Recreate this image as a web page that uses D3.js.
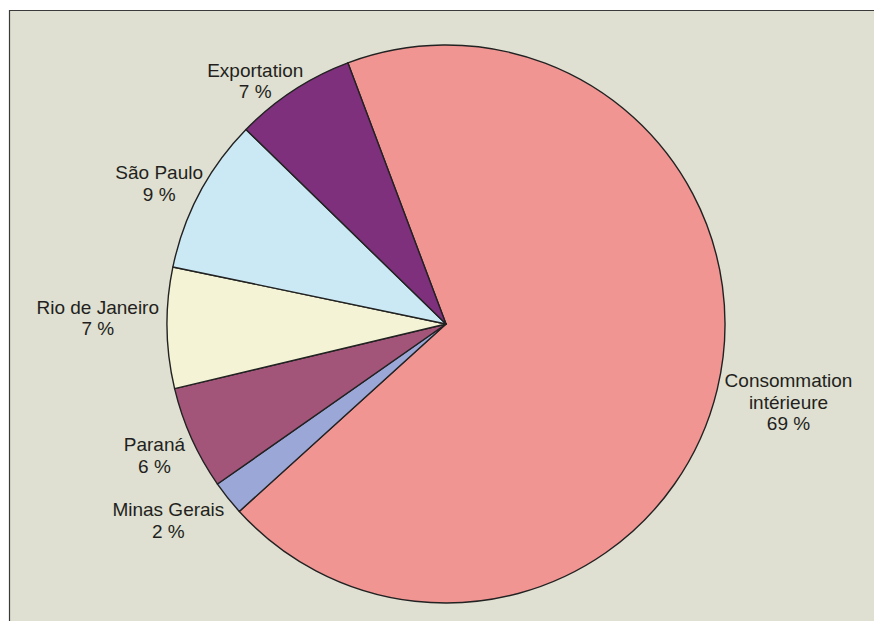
<!DOCTYPE html>
<html><head><meta charset="utf-8">
<script src="https://cdn.jsdelivr.net/npm/d3@7/dist/d3.min.js"></script>
<style>html,body{margin:0;padding:0;background:#fff;}svg{display:block;}</style>
</head><body>
<svg id="chart" width="874" height="621"></svg>
<script>
const categories = ["Consommation intérieure", "Minas Gerais", "Paraná", "Rio de Janeiro", "São Paulo", "Exportation"];
const labelLines = [["Consommation", "intérieure"], ["Minas Gerais"], ["Paraná"], ["Rio de Janeiro"], ["São Paulo"], ["Exportation"]];
const values = [69, 2, 6, 7, 9, 7];
const colors = ["#f19593", "#9ba7d7", "#a25579", "#f4f3d5", "#cbe9f5", "#7e307c"];

const svg = d3.select("#chart");
const W = 874, H = 621;
svg.append("rect").attr("x", 9).attr("y", 10).attr("width", W).attr("height", H)
  .attr("fill", "#dfe0d1");
svg.append("path").attr("d", `M9.5,${H} L9.5,10.5 L${W},10.5`).attr("fill", "none")
  .attr("stroke", "#3a3a3a").attr("stroke-width", 1.2);

const cx = 446, cy = 324, R = 279;
const startAngle = -20.6 * Math.PI / 180;
const pie = d3.pie().sort(null).value(d => d)
  .startAngle(startAngle).endAngle(startAngle + 2 * Math.PI);
const arcs = pie(values);
const arc = d3.arc().innerRadius(0).outerRadius(R);
const g = svg.append("g").attr("transform", `translate(${cx},${cy})`);
g.selectAll("path.slice").data(arcs).join("path").attr("class", "slice")
  .attr("d", arc).attr("fill", (d, i) => colors[i])
  .attr("stroke", "#222").attr("stroke-width", 1.4).attr("stroke-linejoin", "round");

const fs = 19, lh = 21.4;
arcs.forEach((a, i) => {
  const lines = labelLines[i].concat([values[i] + " %"]);
  const t = g.append("text").attr("text-anchor", "middle")
    .attr("font-family", "'Liberation Sans', Arial, sans-serif").attr("font-size", fs)
    .attr("fill", "#231f20");
  lines.forEach((l, k) => t.append("tspan").attr("x", 0).attr("dy", k === 0 ? 0 : lh).text(l));
  const hw = t.node().getBBox().width / 2;
  const mid = (a.startAngle + a.endAngle) / 2;
  const s = Math.sin(mid), c = -Math.cos(mid);
  const ex = R * s, ey = R * c;
  const x = ex + Math.sign(s) * (hw + 20 * Math.abs(s) - 12 - (c < -0.3 ? 9 : 0));
  const y = ey + (c > 0.1 ? 6 + 26 * c : -10);
  const blockH = (lines.length - 1) * lh;
  t.attr("transform", `translate(${x},${y - blockH / 2 + fs * 0.36})`);
});
</script>
</body></html>
